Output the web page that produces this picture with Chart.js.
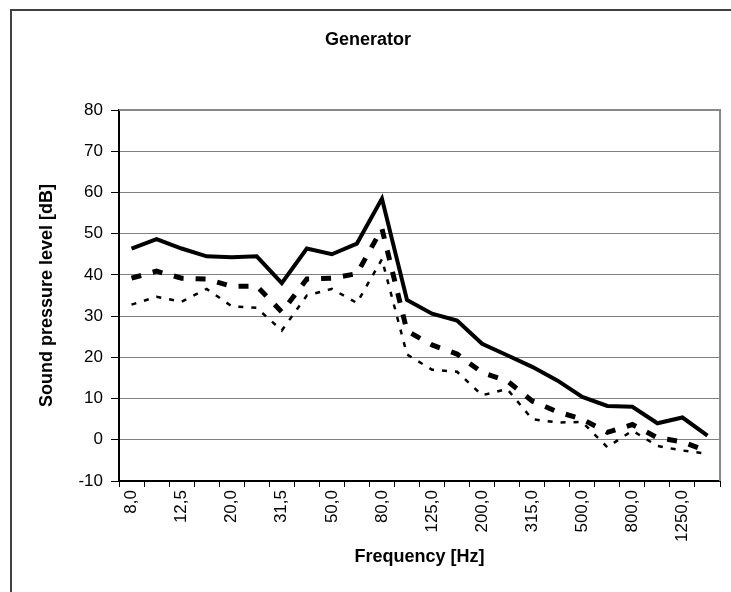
<!DOCTYPE html>
<html>
<head>
<meta charset="utf-8">
<script src="https://cdn.jsdelivr.net/npm/chart.js@4.4.0/dist/chart.umd.min.js"></script>
<style>
  html, body { margin: 0; padding: 0; background: #fff; }
  #wrap { width: 731px; height: 592px; position: relative; }
</style>
</head>
<body>
<div id="wrap"><canvas id="c" width="731" height="592"></canvas></div>
<script>
const categories = ['8,0','10,0','12,5','16,0','20,0','25,0','31,5','40,0','50,0','63,0','80,0','100,0','125,0','160,0','200,0','250,0','315,0','400,0','500,0','630,0','800,0','1000,0','1250,0','1600,0'];
const seriesSolid  = [46.4, 48.7, 46.4, 44.5, 44.3, 44.5, 38.0, 46.4, 45.0, 47.6, 58.5, 33.9, 30.6, 28.9, 23.3, 20.5, 17.7, 14.4, 10.4, 8.2, 8.0, 4.0, 5.4, 1.0];
const seriesDashed = [39.2, 40.9, 39.2, 39.0, 37.2, 37.3, 31.0, 39.0, 39.2, 40.3, 51.2, 26.4, 23.0, 20.8, 16.3, 14.3, 9.4, 6.8, 5.0, 1.8, 3.7, 0.5, -0.5, -2.8];
const seriesDotted = [32.8, 34.7, 33.5, 36.6, 32.4, 32.0, 26.5, 35.0, 36.6, 33.2, 43.8, 20.7, 17.0, 16.5, 10.8, 12.3, 5.0, 4.2, 4.3, -1.8, 2.2, -1.5, -2.6, -3.4];
const yTicks = { min: -10, max: 80, step: 10 };
const titleText = 'Generator';
const xTitle = 'Frequency [Hz]';
const yTitle = 'Sound pressure level [dB]';

const FONT = "'Liberation Sans', Arial, sans-serif";

const framePlugin = {
  id: 'frame',
  beforeDraw(chart) {
    const ctx = chart.ctx;
    ctx.save();
    ctx.strokeStyle = '#404040';
    ctx.lineWidth = 2;
    ctx.beginPath();
    ctx.moveTo(11, chart.height);
    ctx.lineTo(11, 10);
    ctx.lineTo(chart.width, 10);
    ctx.stroke();
    ctx.restore();
  },
  beforeDatasetsDraw(chart) {
    const a = chart.chartArea, ctx = chart.ctx;
    ctx.save();
    ctx.strokeStyle = '#888888';
    ctx.lineWidth = 2;
    ctx.beginPath();
    ctx.moveTo(a.left, a.top);
    ctx.lineTo(a.right, a.top);
    ctx.lineTo(a.right, a.bottom);
    ctx.stroke();
    ctx.restore();
  }
};

new Chart(document.getElementById('c'), {
  type: 'line',
  data: {
    labels: categories,
    datasets: [
      { label: 'A', data: seriesSolid, borderColor: '#000', borderWidth: 4, pointRadius: 0, tension: 0, fill: false },
      { label: 'B', data: seriesDashed, borderColor: '#000', borderWidth: 5, borderDash: [10, 12], pointRadius: 0, tension: 0, fill: false },
      { label: 'C', data: seriesDotted, borderColor: '#000', borderWidth: 2.5, borderDash: [5, 8], pointRadius: 0, tension: 0, fill: false }
    ]
  },
  options: {
    responsive: false,
    animation: false,
    layout: { padding: { left: 10, right: 5, top: 0, bottom: 0 } },
    plugins: {
      legend: { display: false },
      tooltip: { enabled: false },
      title: {
        display: true, text: titleText, color: '#000',
        font: { family: FONT, size: 18, weight: 'bold', lineHeight: 1.2 },
        padding: { top: 29, bottom: 59.4 }
      }
    },
    scales: {
      x: {
        type: 'category',
        offset: true,
        grid: { display: true, drawOnChartArea: false, offset: true, tickLength: 6, tickColor: '#000', tickWidth: 1 },
        border: { display: true, color: '#000', width: 2 },
        ticks: {
          autoSkip: false, minRotation: 90, maxRotation: 90, padding: 3, color: '#000',
          font: { family: FONT, size: 17 },
          callback: function(v, i) { return i % 2 === 0 ? categories[i] : ''; }
        },
        title: { display: true, text: xTitle, color: '#000', font: { family: FONT, size: 18, weight: 'bold', lineHeight: 1.2 }, padding: { top: 0, bottom: 24 } },
        afterFit(scale) { scale.height = 111; }
      },
      y: {
        min: yTicks.min, max: yTicks.max,
        grid: { color: '#808080', lineWidth: 1, tickLength: 8, tickColor: '#000', tickWidth: 1 },
        border: { display: true, color: '#000', width: 2 },
        ticks: { stepSize: yTicks.step, padding: 8, color: '#000', font: { family: FONT, size: 17 } },
        title: { display: true, text: yTitle, color: '#000', font: { family: FONT, size: 18, weight: 'bold', lineHeight: 1.2 }, padding: { top: 26, bottom: 0 } },
        afterFit(scale) { scale.width = 109; }
      }
    }
  },
  plugins: [framePlugin]
});
</script>
</body>
</html>
